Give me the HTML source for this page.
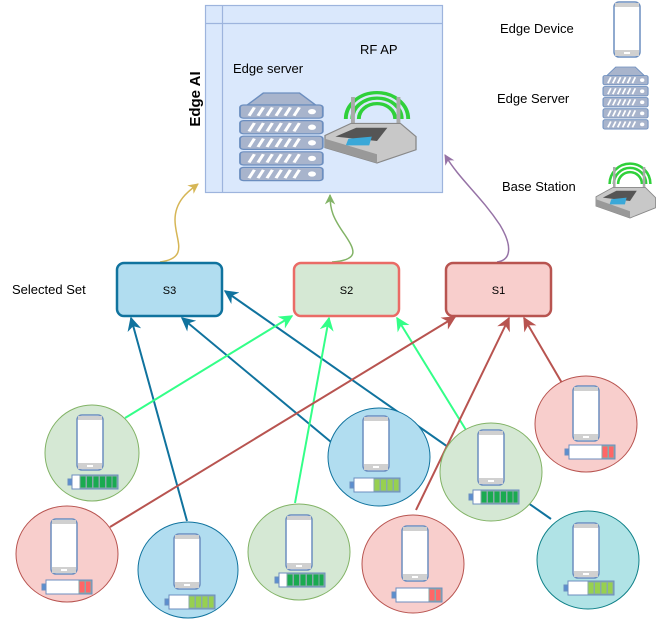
<!DOCTYPE html>
<html><head><meta charset="utf-8"><style>
html,body{margin:0;padding:0;background:#fff}
svg{display:block;font-family:"Liberation Sans",Arial,sans-serif}
</style></head><body>
<svg width="664" height="620" viewBox="0 0 664 620" xmlns="http://www.w3.org/2000/svg">
<defs>
<marker id="ab" viewBox="0 0 10 10" refX="9" refY="5" markerWidth="7" markerHeight="7" orient="auto"><path d="M0,0 L10,5 L0,10 L3,5 Z" fill="#10739e"/></marker>
<marker id="ag" viewBox="0 0 10 10" refX="9" refY="5" markerWidth="7" markerHeight="7" orient="auto"><path d="M0,0 L10,5 L0,10 L3,5 Z" fill="#33ff88"/></marker>
<marker id="ar" viewBox="0 0 10 10" refX="9" refY="5" markerWidth="7" markerHeight="7" orient="auto"><path d="M0,0 L10,5 L0,10 L3,5 Z" fill="#b85450"/></marker>
<marker id="ay" viewBox="0 0 10 10" refX="9" refY="5" markerWidth="7" markerHeight="7" orient="auto"><path d="M0,0 L10,5 L0,10 L3,5 Z" fill="#d6b656"/></marker>
<marker id="agg" viewBox="0 0 10 10" refX="9" refY="5" markerWidth="7" markerHeight="7" orient="auto"><path d="M0,0 L10,5 L0,10 L3,5 Z" fill="#82b366"/></marker>
<marker id="ap" viewBox="0 0 10 10" refX="9" refY="5" markerWidth="7" markerHeight="7" orient="auto"><path d="M0,0 L10,5 L0,10 L3,5 Z" fill="#9673a6"/></marker>
<g id="phone">
<rect x="0" y="0" width="26" height="55" rx="5" fill="#fff" stroke="#6c8ebf" stroke-width="1.5"/>
<rect x="1" y="1" width="24" height="4" fill="#d0d0d0"/>
<rect x="1" y="48" width="24" height="6" fill="#d0d0d0"/>
<rect x="10" y="50" width="6" height="2" fill="#fff"/>
</g>
<g id="slab">
<rect x="0" y="0" width="46" height="11" rx="2" fill="#a8b4cc" stroke="#6c8ebf"/>
<path d="M5,9 L8,2 M10,9 L13,2 M15,9 L18,2 M20,9 L23,2 M25,9 L28,2 M30,9 L33,2" stroke="#fff" stroke-width="1.8"/>
<circle cx="40" cy="5.5" r="2.2" fill="#fff"/>
</g>
<g id="server">
<path d="M4,10 L13,0 L33,0 L42,10 Z" fill="#a8b4cc" stroke="#6c8ebf"/>
<use href="#slab" transform="translate(0,10)"/>
<use href="#slab" transform="translate(0,23)"/>
<use href="#slab" transform="translate(0,36)"/>
<use href="#slab" transform="translate(0,49)"/>
<use href="#slab" transform="translate(0,62)"/>
</g>
<g id="router">
<g fill="none" stroke="#2fd03a" stroke-width="3">
<path d="M16,40 A24,24 0 0 1 64,40"/>
<path d="M21,40 A19,19 0 0 1 59,40"/>
<path d="M26,40 A14,14 0 0 1 54,40"/>
</g>
<rect x="20" y="20" width="3" height="36" fill="#aaa"/>
<rect x="55" y="20" width="3" height="36" fill="#aaa"/>
<path d="M0,55 L20,44 L58,44 L70,56 L70,68 L40,80 L0,66 Z" fill="#c8c8c8" stroke="#888"/>
<path d="M8,56 L24,48 L48,48 L40,60 Z" fill="#555"/>
<path d="M18,58 L36,56 L34,64 L16,64 Z" fill="#3aa8d8"/>
<path d="M0,66 L40,80 L40,72 L0,58 Z" fill="#999"/>
</g>
</defs>

<!-- Edge AI container -->
<rect x="205.5" y="5.5" width="237" height="187" fill="#dae8fc" stroke="#9db4dd" stroke-width="1.2"/>
<line x1="205.5" y1="23.5" x2="442.5" y2="23.5" stroke="#9db4dd" stroke-width="1.2"/>
<line x1="222.5" y1="5.5" x2="222.5" y2="192.5" stroke="#9db4dd" stroke-width="1.2"/>
<text x="200" y="99" font-size="15" font-weight="bold" transform="rotate(-90 200 99)" text-anchor="middle">Edge AI</text>
<text x="233" y="73" font-size="13">Edge server</text>
<text x="360" y="54" font-size="13">RF AP</text>
<use href="#server" transform="translate(240,93) scale(1.8,1.2)"/>
<use href="#router" transform="translate(325,75) scale(1.3,1.1)"/>

<!-- Legend -->
<text x="500" y="33" font-size="13">Edge Device</text>
<use href="#phone" transform="translate(614,2)"/>
<text x="497" y="103" font-size="13">Edge Server</text>
<use href="#server" transform="translate(603,67) scale(0.98,0.85)"/>
<text x="502" y="191" font-size="13">Base Station</text>
<use href="#router" transform="translate(596,150) scale(0.85)"/>

<!-- curves -->
<path d="M160,262 C190,258 175,240 175,220 C175,200 190,190 198,184" fill="none" stroke="#d6b656" stroke-width="1.5" marker-end="url(#ay)"/>
<path d="M332,262 C360,260 355,250 345,235 C333,218 330,210 330,195" fill="none" stroke="#82b366" stroke-width="1.5" marker-end="url(#agg)"/>
<path d="M497,262 C512,260 512,245 500,225 C480,195 460,180 445,155" fill="none" stroke="#9673a6" stroke-width="1.5" marker-end="url(#ap)"/>

<!-- Selected set boxes -->
<text x="12" y="294" font-size="13">Selected Set</text>
<rect x="117" y="263" width="105" height="53" rx="7" fill="#b1ddf0" stroke="#10739e" stroke-width="2.5"/>
<text x="169.5" y="294" font-size="11" text-anchor="middle">S3</text>
<rect x="294" y="263" width="105" height="53" rx="7" fill="#d5e8d4" stroke="#ea6b66" stroke-width="2.5"/>
<text x="346.5" y="294" font-size="11" text-anchor="middle">S2</text>
<rect x="446" y="263" width="105" height="53" rx="7" fill="#f8cecc" stroke="#b85450" stroke-width="2.5"/>
<text x="498.5" y="294" font-size="11" text-anchor="middle">S1</text>

<!-- connectors -->
<g stroke-width="2" fill="none">
<line x1="187" y1="521" x2="131" y2="318" stroke="#10739e" marker-end="url(#ab)"/>
<line x1="331" y1="442" x2="182" y2="318" stroke="#10739e" marker-end="url(#ab)"/>
<line x1="551" y1="519" x2="225" y2="291" stroke="#10739e" marker-end="url(#ab)"/>
<line x1="125" y1="418" x2="292" y2="316" stroke="#33ff88" marker-end="url(#ag)"/>
<line x1="295" y1="503" x2="329" y2="318" stroke="#33ff88" marker-end="url(#ag)"/>
<line x1="466" y1="430" x2="397" y2="318" stroke="#33ff88" marker-end="url(#ag)"/>
<line x1="110" y1="527" x2="455" y2="317" stroke="#b85450" marker-end="url(#ar)"/>
<line x1="416" y1="510" x2="509" y2="318" stroke="#b85450" marker-end="url(#ar)"/>
<line x1="562" y1="383" x2="524" y2="318" stroke="#b85450" marker-end="url(#ar)"/>
</g>

<!-- circles -->
<ellipse cx="92" cy="453" rx="47" ry="48" fill="#d5e8d4" stroke="#82b366"/>
<ellipse cx="67" cy="554" rx="51" ry="48" fill="#f8cecc" stroke="#b85450"/>
<ellipse cx="188" cy="570" rx="50" ry="48" fill="#b1ddf0" stroke="#10739e"/>
<ellipse cx="299" cy="552" rx="51" ry="48" fill="#d5e8d4" stroke="#82b366"/>
<ellipse cx="413" cy="564" rx="51" ry="49" fill="#f8cecc" stroke="#b85450"/>
<ellipse cx="379" cy="457" rx="51" ry="49" fill="#b1ddf0" stroke="#10739e"/>
<ellipse cx="491" cy="472" rx="51" ry="49" fill="#d5e8d4" stroke="#82b366"/>
<ellipse cx="586" cy="424" rx="51" ry="48" fill="#f8cecc" stroke="#b85450"/>
<ellipse cx="588" cy="560" rx="51" ry="49" fill="#b0e3e6" stroke="#0e8088"/>

<!-- phones and batteries -->
<g>
<use href="#phone" transform="translate(77,415)"/>
<use href="#phone" transform="translate(51,519)"/>
<use href="#phone" transform="translate(174,534)"/>
<use href="#phone" transform="translate(286,515)"/>
<use href="#phone" transform="translate(402,526)"/>
<use href="#phone" transform="translate(363,416)"/>
<use href="#phone" transform="translate(478,430)"/>
<use href="#phone" transform="translate(573,386)"/>
<use href="#phone" transform="translate(573,523)"/>
</g>
<g stroke="#6c8ebf" stroke-width="1">
<g transform="translate(68,475)"><rect x="0" y="4" width="4" height="6" fill="#5b8fcf"/><rect x="4" y="0" width="46" height="14" fill="#fff"/><g fill="#1aaa50" stroke="#8aa"><rect x="12" y="1" width="6" height="12"/><rect x="18.5" y="1" width="6" height="12"/><rect x="25" y="1" width="6" height="12"/><rect x="31.5" y="1" width="6" height="12"/><rect x="38" y="1" width="6" height="12"/><rect x="44" y="1" width="5" height="12"/></g></g>
<g transform="translate(42,580)"><rect x="0" y="4" width="4" height="6" fill="#5b8fcf"/><rect x="4" y="0" width="46" height="14" fill="#fff"/><g fill="#ff6666" stroke="#8aa"><rect x="37" y="1" width="6" height="12"/><rect x="43.5" y="1" width="5.5" height="12"/></g></g>
<g transform="translate(165,595)"><rect x="0" y="4" width="4" height="6" fill="#5b8fcf"/><rect x="4" y="0" width="46" height="14" fill="#fff"/><g fill="#97d050" stroke="#8aa"><rect x="24" y="1" width="6" height="12"/><rect x="30.5" y="1" width="6" height="12"/><rect x="37" y="1" width="6" height="12"/><rect x="43.5" y="1" width="5.5" height="12"/></g></g>
<g transform="translate(275,573)"><rect x="0" y="4" width="4" height="6" fill="#5b8fcf"/><rect x="4" y="0" width="46" height="14" fill="#fff"/><g fill="#1aaa50" stroke="#8aa"><rect x="12" y="1" width="6" height="12"/><rect x="18.5" y="1" width="6" height="12"/><rect x="25" y="1" width="6" height="12"/><rect x="31.5" y="1" width="6" height="12"/><rect x="38" y="1" width="6" height="12"/><rect x="44" y="1" width="5" height="12"/></g></g>
<g transform="translate(392,588)"><rect x="0" y="4" width="4" height="6" fill="#5b8fcf"/><rect x="4" y="0" width="46" height="14" fill="#fff"/><g fill="#ff6666" stroke="#8aa"><rect x="37" y="1" width="6" height="12"/><rect x="43.5" y="1" width="5.5" height="12"/></g></g>
<g transform="translate(350,478)"><rect x="0" y="4" width="4" height="6" fill="#5b8fcf"/><rect x="4" y="0" width="46" height="14" fill="#fff"/><g fill="#97d050" stroke="#8aa"><rect x="24" y="1" width="6" height="12"/><rect x="30.5" y="1" width="6" height="12"/><rect x="37" y="1" width="6" height="12"/><rect x="43.5" y="1" width="5.5" height="12"/></g></g>
<g transform="translate(469,490)"><rect x="0" y="4" width="4" height="6" fill="#5b8fcf"/><rect x="4" y="0" width="46" height="14" fill="#fff"/><g fill="#1aaa50" stroke="#8aa"><rect x="12" y="1" width="6" height="12"/><rect x="18.5" y="1" width="6" height="12"/><rect x="25" y="1" width="6" height="12"/><rect x="31.5" y="1" width="6" height="12"/><rect x="38" y="1" width="6" height="12"/><rect x="44" y="1" width="5" height="12"/></g></g>
<g transform="translate(565,445)"><rect x="0" y="4" width="4" height="6" fill="#5b8fcf"/><rect x="4" y="0" width="46" height="14" fill="#fff"/><g fill="#ff6666" stroke="#8aa"><rect x="37" y="1" width="6" height="12"/><rect x="43.5" y="1" width="5.5" height="12"/></g></g>
<g transform="translate(564,581)"><rect x="0" y="4" width="4" height="6" fill="#5b8fcf"/><rect x="4" y="0" width="46" height="14" fill="#fff"/><g fill="#97d050" stroke="#8aa"><rect x="24" y="1" width="6" height="12"/><rect x="30.5" y="1" width="6" height="12"/><rect x="37" y="1" width="6" height="12"/><rect x="43.5" y="1" width="5.5" height="12"/></g></g>
</g>
</svg>
</body></html>
